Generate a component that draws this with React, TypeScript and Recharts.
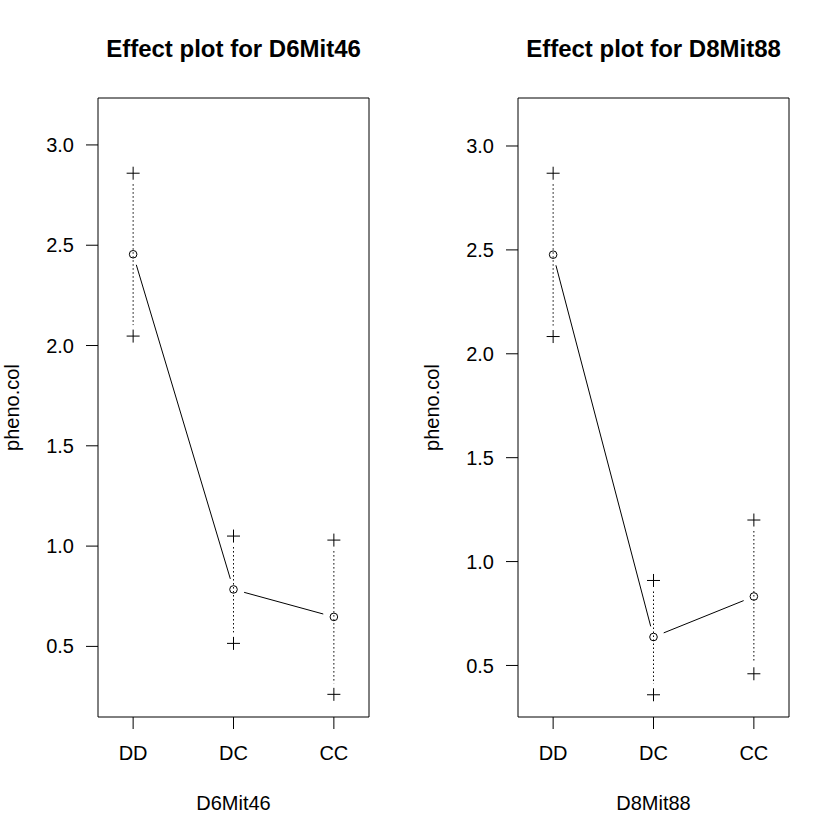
import React from "react";
import { ComposedChart, Line, XAxis, YAxis, ReferenceArea } from "recharts";

// genotype classes on the x axis
const genotypes = ["DD", "DC", "CC"];
const yTicks = [0.5, 1.0, 1.5, 2.0, 2.5, 3.0];

// D6Mit46: means and +/- 1 SE limits
const d6Mean = [2.455, 0.784, 0.647];
const d6Upper = [2.859, 1.05, 1.03];
const d6Lower = [2.047, 0.515, 0.261];

// D8Mit88
const d8Mean = [2.477, 0.637, 0.832];
const d8Upper = [2.869, 0.909, 1.2];
const d8Lower = [2.083, 0.359, 0.46];

const FONT = '"Liberation Sans", Arial, Helvetica, sans-serif';
const GAP = 11; // R type="b" leaves a gap round each point
const X_DOMAIN = [0.65, 3.35];

function gapSegment(points: any[], i: number, dash?: string) {
  if (!points) return null;
  const p = points[i], q = points[i + 1];
  if (!p || !q) return null;
  const dx = q.x - p.x, dy = q.y - p.y;
  const len = Math.hypot(dx, dy);
  if (len <= 2 * GAP) return null;
  const ux = dx / len, uy = dy / len;
  return (
    <line x1={p.x + ux * GAP} y1={p.y + uy * GAP} x2={q.x - ux * GAP} y2={q.y - uy * GAP}
      stroke="#000" strokeWidth={1} strokeDasharray={dash} />
  );
}

const meanDot = (props: any) => {
  const { cx, cy, index, points } = props;
  return (
    <g key={"m" + index}>
      {gapSegment(points, index)}
      <circle cx={cx} cy={cy} r={3.8} fill="none" stroke="#000" strokeWidth={1} />
    </g>
  );
};

const plusDot = (props: any) => {
  const { cx, cy, index, points } = props;
  return (
    <g key={"p" + index}>
      {gapSegment(points, index, "1.5 2.5")}
      <line x1={cx - 6.5} x2={cx + 6.5} y1={cy} y2={cy} stroke="#000" strokeWidth={1} />
      <line x1={cx} x2={cx} y1={cy - 6.5} y2={cy + 6.5} stroke="#000" strokeWidth={1} />
    </g>
  );
};

function EffectPanel({ marker, mean, upper, lower, yDomain }:
  { marker: string; mean: number[]; upper: number[]; lower: number[]; yDomain: number[] }) {
  const rows = genotypes.map((g, i) => ({ x: i + 1, g, v: mean[i] }));
  const bars = genotypes.map((g, i) => [
    { x: i + 1, v: upper[i] },
    { x: i + 1, v: lower[i] },
  ]);
  const cx = 98 + (369 - 98) / 2;
  return (
    <div style={{ position: "relative", width: 420, height: 840 }}>
      <ComposedChart width={420} height={840} data={rows}
        margin={{ top: 98, right: 51, bottom: 0, left: 0 }}>
        <XAxis type="number" dataKey="x" domain={X_DOMAIN} ticks={[1, 2, 3]} allowDataOverflow
          interval={0} tickFormatter={(v) => genotypes[v - 1]} height={123}
          axisLine={false} tickSize={12} tickMargin={17}
          tickLine={{ stroke: "#000" }} tick={{ fill: "#000", fontSize: 20, fontFamily: FONT }} />
        <YAxis type="number" domain={yDomain} ticks={yTicks} allowDataOverflow width={98}
          axisLine={false} tickSize={12} tickMargin={12} tickFormatter={(v) => v.toFixed(1)}
          tickLine={{ stroke: "#000" }} tick={{ fill: "#000", fontSize: 20, fontFamily: FONT }} />
        <ReferenceArea x1={X_DOMAIN[0]} x2={X_DOMAIN[1]} y1={yDomain[0]} y2={yDomain[1]}
          fill="none" fillOpacity={0} stroke="#000" strokeWidth={1} ifOverflow="visible" />
        {bars.map((b, i) => (
          <Line key={"se" + i} data={b} dataKey="v" stroke="none" dot={plusDot}
            activeDot={false} isAnimationActive={false} legendType="none" />
        ))}
        <Line dataKey="v" stroke="none" dot={meanDot} activeDot={false} isAnimationActive={false} />
      </ComposedChart>
      <svg width={420} height={840} style={{ position: "absolute", left: 0, top: 0, pointerEvents: "none" }}>
        <text x={cx} y={57} textAnchor="middle" fontFamily={FONT} fontSize={24} fontWeight="bold" fill="#000">
          {"Effect plot for " + marker}
        </text>
        <text x={cx} y={810} textAnchor="middle" fontFamily={FONT} fontSize={20} fill="#000">{marker}</text>
        <text x={19} y={407.5} transform="rotate(-90 19 407.5)" textAnchor="middle"
          fontFamily={FONT} fontSize={20} fill="#000">pheno.col</text>
      </svg>
    </div>
  );
}

export default function App() {
  return (
    <div style={{ position: "absolute", left: 0, top: 0, width: 840, height: 840, display: "flex", background: "#fff" }}>
      <EffectPanel marker="D6Mit46" mean={d6Mean} upper={d6Upper} lower={d6Lower} yDomain={[0.148, 3.234]} />
      <EffectPanel marker="D8Mit88" mean={d8Mean} upper={d8Upper} lower={d8Lower} yDomain={[0.252, 3.231]} />
    </div>
  );
}
